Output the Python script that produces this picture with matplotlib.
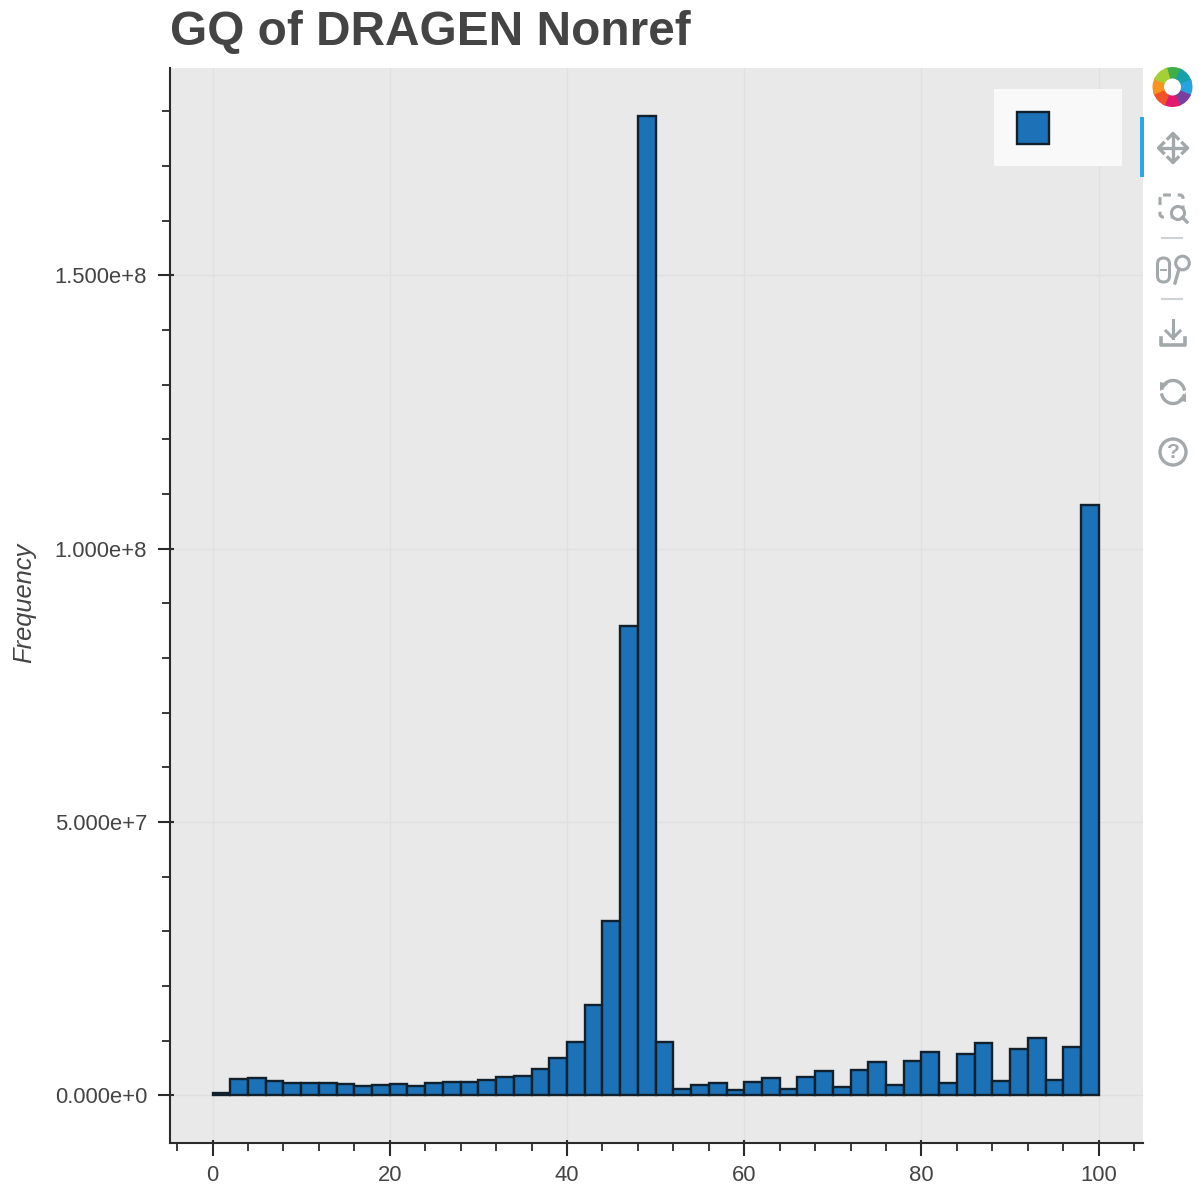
import numpy as np
import matplotlib
matplotlib.use('Agg')
import matplotlib.pyplot as plt
from matplotlib.patches import Circle, FancyBboxPatch, Polygon, Rectangle, Wedge
from matplotlib.ticker import FixedLocator, FuncFormatter, MultipleLocator

plt.rcParams['font.family'] = ['Liberation Sans', 'DejaVu Sans']

# histogram of GQ, bin width 2
bin_left = list(range(0, 100, 2))
frequency_millions = [
    0.5, 3.0, 3.2, 2.6, 2.2, 2.2, 2.2, 2.1, 1.7, 2.0,
    2.1, 1.8, 2.2, 2.5, 2.4, 2.9, 3.3, 3.6, 4.9, 6.9,
    9.8, 16.6, 31.9, 85.9, 179.2, 9.8, 1.1, 1.9, 2.2, 1.0,
    2.5, 3.2, 1.2, 3.3, 4.5, 1.5, 4.7, 6.1, 1.9, 6.3,
    8.0, 2.3, 7.6, 9.6, 2.7, 8.5, 10.5, 2.8, 8.9, 107.9,
]
x_ticks = [0, 20, 40, 60, 80, 100]
y_ticks = [0, 5e7, 1e8, 1.5e8]
title = "GQ of DRAGEN Nonref"
y_label = "Frequency"

BLUE = '#1d71b7'
TEXT = '#444444'
ICON = '#a3a8ab'
AXIS = '#2b2b2b'
W, H = 1199, 1184


def sci_label(v, pos=None):
    if v == 0:
        return '0.000e+0'
    exp = int(np.floor(np.log10(abs(v))))
    return f'{v / 10 ** exp:.3f}e+{exp}'


def draw_logo(ov, cx, cy):
    colors = ['#3fae49', '#18a0a8', '#29a3e0', '#7a3f9d', '#e3196f', '#f0522a', '#f7931e', '#a6ce39']
    for i, c in enumerate(colors):
        # inverted y axis, so angles run clockwise on screen
        start = -112.5 + i * 45
        ov.add_patch(Wedge((cx, cy), 20, start, start + 52, width=11.5, fc=c, ec='none'))


def draw_pan(ov, cx, cy):
    ov.plot([cx - 13, cx + 13], [cy, cy], color=ICON, lw=2.4)
    ov.plot([cx, cx], [cy - 13, cy + 13], color=ICON, lw=2.4)
    for dx, dy in [(1, 0), (-1, 0), (0, 1), (0, -1)]:
        tip = (cx + 14.5 * dx, cy + 14.5 * dy)
        a = (cx + 9.5 * dx + 5 * dy, cy + 9.5 * dy + 5 * dx)
        b = (cx + 9.5 * dx - 5 * dy, cy + 9.5 * dy - 5 * dx)
        ov.plot([a[0], tip[0], b[0]], [a[1], tip[1], b[1]], color=ICON, lw=2.4)


def draw_box_zoom(ov, cx, cy):
    ov.add_patch(FancyBboxPatch((cx - 12, cy - 12), 23, 22, boxstyle='round,pad=0,rounding_size=3',
                                fc='none', ec=ICON, lw=2.2, ls=(0, (2.6, 2.2))))
    ov.add_patch(Circle((cx + 6, cy + 6), 6.5, fc='white', ec=ICON, lw=2.2))
    ov.plot([cx + 10.5, cx + 15], [cy + 10.5, cy + 15], color=ICON, lw=2.4)


def draw_wheel_zoom(ov, cx, cy):
    ov.add_patch(FancyBboxPatch((cx - 15.5, cy - 12), 12, 24, boxstyle='round,pad=0,rounding_size=6',
                                fc='none', ec=ICON, lw=2.2))
    ov.plot([cx - 12, cx - 7], [cy, cy], color=ICON, lw=1.4)
    ov.add_patch(Circle((cx + 9.5, cy - 7), 6.8, fc='white', ec=ICON, lw=2.2))
    ov.plot([cx + 6, cx + 2], [cy - 1, cy + 13], color=ICON, lw=2.4)


def draw_save(ov, cx, cy):
    ov.plot([cx, cx], [cy - 13, cy + 5], color=ICON, lw=2.2)
    ov.plot([cx - 7, cx, cx + 7], [cy - 2, cy + 5, cy - 2], color=ICON, lw=2.2)
    ov.plot([cx - 12, cx - 12, cx + 12, cx + 12], [cy + 5, cy + 12, cy + 12, cy + 5], color=ICON, lw=2.6)


def draw_reset(ov, cx, cy):
    r = 11.5
    for start, end in [(200, 345), (20, 165)]:
        t = np.radians(np.linspace(start, end, 40))
        ov.plot(cx + r * np.cos(t), cy + r * np.sin(t), color=ICON, lw=2.4)
    ov.add_patch(Polygon([(cx + 13, cy + 1), (cx + 13, cy + 10), (cx + 5, cy + 8)], fc=ICON, ec='none'))
    ov.add_patch(Polygon([(cx - 13, cy - 1), (cx - 13, cy - 10), (cx - 5, cy - 8)], fc=ICON, ec='none'))


def draw_help(ov, cx, cy):
    ov.add_patch(Circle((cx, cy), 13, fc='none', ec=ICON, lw=2.4))
    ov.text(cx, cy + 0.5, '?', color=ICON, fontsize=15, fontweight='bold', ha='center', va='center')


fig = plt.figure(figsize=(W / 100, H / 100), dpi=100, facecolor='white')
ax = fig.add_axes([170 / W, 1 - 1143 / H, (1143 - 170) / W, (1143 - 68) / H], facecolor='#e9e9e9')

heights = np.array(frequency_millions) * 1e6
ax.bar(bin_left, heights, width=2, align='edge', color=BLUE, edgecolor='#10202c', linewidth=1.7, zorder=3)

ax.set_xlim(-4.8, 105.0)
ax.set_ylim(-8.69e6, 187.9e6)

ax.xaxis.set_major_locator(FixedLocator(x_ticks))
ax.xaxis.set_minor_locator(MultipleLocator(4))
ax.yaxis.set_major_locator(FixedLocator(y_ticks))
ax.yaxis.set_minor_locator(MultipleLocator(1e7))
ax.yaxis.set_major_formatter(FuncFormatter(sci_label))

ax.grid(True, which='major', color='#e0e0e0', linewidth=1.0, zorder=0)
ax.set_axisbelow(True)

for side in ['top', 'right']:
    ax.spines[side].set_visible(False)
for side in ['left', 'bottom']:
    ax.spines[side].set_color(AXIS)
    ax.spines[side].set_linewidth(1.5)

ax.tick_params(which='major', direction='out', length=9, width=1.5, color=AXIS,
               labelsize=15.8, labelcolor=TEXT)
ax.tick_params(axis='x', which='major', pad=6.6)
ax.tick_params(axis='y', which='major', pad=7.5)
ax.tick_params(which='minor', direction='out', length=6, width=1.3, color=AXIS)

# bokeh major ticks poke a little way inside the frame too
ax.vlines(x_ticks, 0, 3.5 / 1075, transform=ax.get_xaxis_transform(), color=AXIS, lw=1.5, zorder=4)
ax.hlines(y_ticks, 0, 3.5 / 973, transform=ax.get_yaxis_transform(), color=AXIS, lw=1.5, zorder=4)

fig.text(170 / W, 1 - 33 / H, title, fontsize=34.4, fontweight='bold', color=TEXT, ha='left', va='center')
fig.text(24 / W, 1 - 603 / H, y_label, fontsize=18.4, fontstyle='italic', color=TEXT,
         rotation=90, ha='center', va='center')

# legend box and bokeh toolbar sit on a pixel overlay
ov = fig.add_axes([0, 0, 1, 1], facecolor='none')
ov.set_xlim(0, W)
ov.set_ylim(H, 0)
ov.axis('off')

ov.add_patch(Rectangle((994, 89), 128, 77, fc='#f9f9f9', ec='none'))
ov.add_patch(Rectangle((1017, 112), 32, 32, fc=BLUE, ec='#10202c', lw=1.7))
ov.add_patch(Rectangle((1140, 117), 4, 60, fc='#26aae1', ec='none'))

draw_logo(ov, 1172.5, 87)
draw_pan(ov, 1173, 148)
draw_box_zoom(ov, 1172, 207)
ov.plot([1162, 1182], [238, 238], color='#cfd2d4', lw=1.5)
draw_wheel_zoom(ov, 1173, 270)
ov.plot([1162, 1182], [299, 299], color='#cfd2d4', lw=1.5)
draw_save(ov, 1173, 333)
draw_reset(ov, 1173, 392)
draw_help(ov, 1173, 452)

fig.savefig('out.png', dpi=100)
